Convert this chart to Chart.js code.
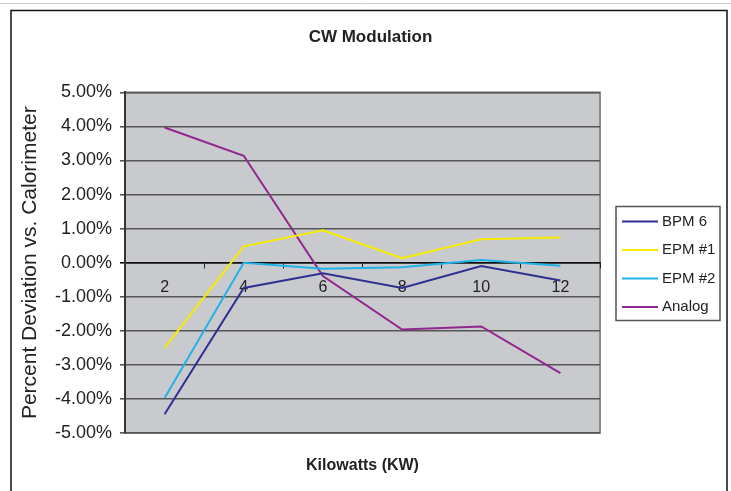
<!DOCTYPE html>
<html>
<head>
<meta charset="utf-8">
<title>CW Modulation</title>
<script src="https://cdn.jsdelivr.net/npm/chart.js@4.4.1/dist/chart.umd.min.js"></script>
<style>
  html, body { margin: 0; padding: 0; background: #fff; }
  #wrap { width: 731px; height: 491px; }
</style>
</head>
<body>
<div id="wrap"><canvas id="cwChart" width="731" height="491"></canvas></div>
<script>
// Data (percent deviation)
const kwLabels = ["2", "4", "6", "8", "10", "12"];
const bpm6 = [-4.45, -0.74, -0.31, -0.74, -0.1, -0.52];
const epm1 = [-2.5, 0.48, 0.95, 0.13, 0.69, 0.74];
const epm2 = [-3.97, 0.0, -0.18, -0.13, 0.08, -0.09];
const analog = [3.97, 3.14, -0.39, -1.96, -1.87, -3.24];
const seriesNames = ["BPM 6", "EPM #1", "EPM #2", "Analog"];
const seriesColors = ["#2e3192", "#f5ec00", "#1fb3e8", "#90278e"];
const yMin = -5;
const yMax = 5;
const yStep = 1;

const FONT = "'Liberation Sans', Arial, Helvetica, sans-serif";

// gray plot background + outer frame
const backdrop = {
  id: "backdrop",
  beforeDraw(chart) {
    const { ctx, chartArea: a } = chart;
    ctx.save();
    ctx.fillStyle = "#c9cacd";
    ctx.fillRect(a.left, a.top, a.right - a.left, a.bottom - a.top);
    ctx.strokeStyle = "#8c8c8c";
    ctx.lineWidth = 2;
    ctx.strokeRect(a.left, a.top, a.right - a.left, a.bottom - a.top);
    // outer frame
    ctx.strokeStyle = "#d0d0d0";
    ctx.lineWidth = 1;
    ctx.beginPath();
    ctx.moveTo(0, 3.5);
    ctx.lineTo(731, 3.5);
    ctx.stroke();
    ctx.strokeStyle = "#111";
    ctx.lineWidth = 1.5;
    ctx.strokeRect(11, 10.5, 716, 500);
    ctx.restore();
  },
};

// legend box on the right, built from the datasets
const boxLegend = {
  id: "boxLegend",
  afterDraw(chart) {
    const { ctx, chartArea: a } = chart;
    const left = a.right + 16;
    const width = 104;
    const height = 114;
    const top = Math.round((a.top + a.bottom) / 2 - height / 2) + 0.5;
    ctx.save();
    ctx.strokeStyle = "#555";
    ctx.lineWidth = 1.5;
    ctx.strokeRect(left, top, width, height);
    ctx.font = "15px " + FONT;
    ctx.textBaseline = "middle";
    ctx.textAlign = "left";
    chart.data.datasets.forEach((ds, i) => {
      const y = top + 15 + i * 28.5;
      ctx.strokeStyle = ds.borderColor;
      ctx.lineWidth = 2;
      ctx.beginPath();
      ctx.moveTo(left + 6, y);
      ctx.lineTo(left + 42, y);
      ctx.stroke();
      ctx.fillStyle = "#222";
      ctx.fillText(ds.label, left + 46, y);
    });
    ctx.restore();
  },
};

const seriesData = [bpm6, epm1, epm2, analog];

const ctx = document.getElementById("cwChart").getContext("2d");
new Chart(ctx, {
  type: "line",
  data: {
    labels: kwLabels,
    datasets: seriesData.map((d, i) => ({
      label: seriesNames[i],
      data: d,
      borderColor: seriesColors[i],
      backgroundColor: seriesColors[i],
      borderWidth: 2,
      pointRadius: 0,
      tension: 0,
      fill: false,
    })),
  },
  options: {
    responsive: false,
    animation: false,
    layout: { padding: { left: 10, right: 0, top: 0, bottom: 0 } },
    plugins: {
      legend: { display: false },
      tooltip: { enabled: false },
      title: {
        display: true,
        text: "CW Modulation",
        color: "#222",
        font: { family: FONT, size: 17, weight: "bold" },
        padding: { top: 27, bottom: 45 },
      },
    },
    scales: {
      x: {
        type: "category",
        position: { y: 0 },
        offset: true,
        grid: {
          drawOnChartArea: false,
          drawTicks: true,
          tickLength: 5,
          offset: true,
          color: "#222",
        },
        border: { display: true, color: "#111", width: 1.5 },
        ticks: {
          color: "#222",
          padding: 10,
          maxRotation: 0,
          font: { family: FONT, size: 16 },
        },
      },
      x2: {
        type: "category",
        position: "bottom",
        labels: kwLabels,
        grid: { display: false, drawTicks: false, tickLength: 0 },
        border: { display: false },
        ticks: { display: false },
        title: {
          display: true,
          text: "Kilowatts (KW)",
          color: "#222",
          font: { family: FONT, size: 16, weight: "bold" },
          padding: { top: 23.4, bottom: 15.4 },
        },
      },
      y: {
        min: yMin,
        max: yMax,
        afterFit(scale) {
          scale.width = 115;
        },
        ticks: {
          stepSize: yStep,
          padding: 8,
          color: "#222",
          font: { family: FONT, size: 18 },
          callback: function (value) {
            return value.toFixed(2) + "%";
          },
        },
        grid: {
          color: function (c) {
            return c.tick && c.tick.value === 0 ? "#111" : "#555";
          },
          lineWidth: 1.6,
          tickLength: 5,
        },
        border: { display: true, color: "#333", width: 2 },
        title: {
          display: true,
          text: "Percent Deviation vs. Calorimeter",
          color: "#222",
          font: { family: FONT, size: 21 },
          padding: { top: 8, bottom: 0 },
        },
      },
      // empty axis that only reserves room for the legend box
      yRight: {
        type: "linear",
        position: "right",
        min: yMin,
        max: yMax,
        afterFit(scale) {
          scale.width = 131;
        },
        grid: { display: false, drawTicks: false, tickLength: 0 },
        border: { display: false },
        ticks: { display: false },
      },
    },
  },
  plugins: [backdrop, boxLegend],
});
</script>
</body>
</html>
